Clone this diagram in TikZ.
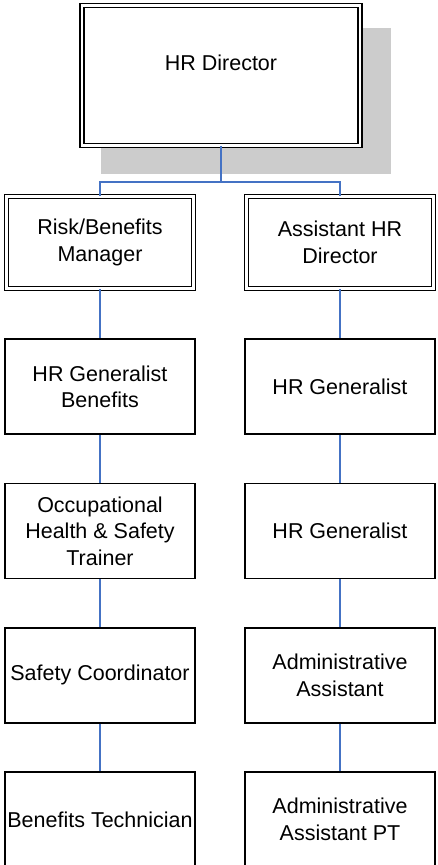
\documentclass[tikz,border=0pt]{standalone}
\usepackage{fontspec}
\setmainfont{Liberation Sans}
\usepackage{tikz}
\usetikzlibrary{shadows}
\definecolor{linkblue}{RGB}{68,114,196}
\def\jobnode{\node[jobbox]}
\def\headnode{\node[headbox]}

\begin{document}
\begin{tikzpicture}[x=1pt,y=-1pt,
  jobbox/.style={draw=black,line width=1.8pt,fill=white,minimum width=190pt,minimum height=95pt,
    inner sep=0pt,align=center,font=\fontsize{21.5}{26.5}\selectfont},
  headbox/.style={jobbox,double=white,line width=1.6pt,double distance=2.2pt,
    minimum width=187pt,minimum height=92pt},
  link/.style={draw=linkblue,line width=1.3pt}]
\useasboundingbox (0,0) rectangle (437,865);
\headnode[minimum width=278pt,minimum height=140pt,
  drop shadow={shadow xshift=24pt,shadow yshift=-24.5pt,shadow scale=1.043,fill=black!20,opacity=1}]
  (hrdir) at (221,75.5) {\raisebox{26pt}{HR Director}};
\headnode (riskmgr) at (100,242.5) {Risk/Benefits\\Manager};
\headnode (asstdir) at (340,242.5) {Assistant HR\\Director};
\jobnode (genben) at (100,386.75) {HR Generalist\\Benefits};
\jobnode (ohstrainer) at (100,531) {Occupational\\Health \& Safety\\Trainer};
\jobnode (safety) at (100,675.25) {Safety Coordinator};
\jobnode (bentech) at (100,819.5) {Benefits Technician};
\jobnode (gen1) at (340,386.75) {HR Generalist};
\jobnode (gen2) at (340,531) {HR Generalist};
\jobnode (admin) at (340,675.25) {Administrative\\Assistant};
\jobnode (adminpt) at (340,819.5) {Administrative\\Assistant PT};
\coordinate (bus) at (221,182);
\draw[link] (hrdir.south) -- (bus);
\draw[link] (riskmgr.north) |- (bus) -| (asstdir.north);
\draw[link] (riskmgr) -- (genben) -- (ohstrainer) -- (safety) -- (bentech);
\draw[link] (asstdir) -- (gen1) -- (gen2) -- (admin) -- (adminpt);
\end{tikzpicture}
\end{document}
